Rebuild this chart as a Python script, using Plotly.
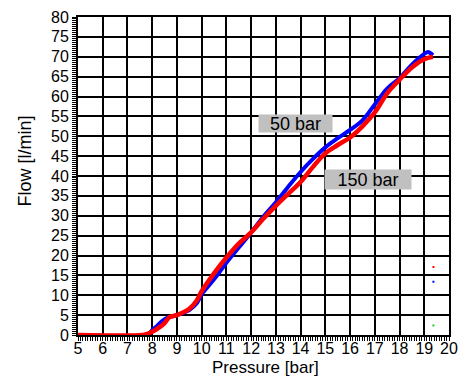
import plotly.graph_objects as go

# 50 bar curve (blue)
p50 = [5.0, 7.7, 7.9, 8.0, 8.2, 8.4, 8.6, 9.0, 9.5, 9.8, 10.0, 10.5, 11.0, 11.5, 12.0,
       12.5, 13.0, 13.5, 14.0, 14.5, 15.0, 15.5, 16.0, 16.5, 17.0, 17.5, 18.0, 18.5,
       19.0, 19.15, 19.35]
q50 = [0.0, 0.0, 0.5, 1.2, 2.3, 3.5, 4.3, 5.0, 6.3, 8.0, 10.2, 14.0, 18.2, 22.0, 25.8,
       29.8, 33.4, 37.3, 41.0, 44.3, 47.2, 49.5, 51.6, 54.0, 58.0, 62.0, 64.6, 68.0,
       70.7, 71.2, 70.4]

# 150 bar curve (red)
p150 = [5.0, 7.6, 7.8, 8.0, 8.3, 8.5, 8.7, 9.0, 9.5, 9.8, 10.0, 10.5, 11.0, 11.5, 12.0,
        12.5, 13.0, 13.5, 14.0, 14.5, 15.0, 15.5, 16.0, 16.5, 17.0, 17.5, 18.0, 18.5,
        19.0, 19.35]
q150 = [0.0, 0.0, 0.3, 0.8, 2.0, 3.0, 4.5, 5.0, 6.6, 8.7, 11.0, 15.5, 19.5, 23.0, 25.8,
        29.3, 32.5, 35.5, 38.5, 42.3, 45.7, 47.8, 49.7, 52.5, 56.0, 60.8, 64.2, 67.3,
        69.4, 70.0]

# small stray marks at the right
dot_x = [19.37, 19.37, 19.37]
dot_y = [17.1, 13.4, 2.4]
dot_c = ["red", "blue", "#22cc22"]

labels = ["50 bar", "150 bar"]
label_x = [13.79, 16.72]
label_y = [53.2, 39.1]
label_w = [71, 84]
label_h = [15, 17]

x_ticks = list(range(5, 21))
y_ticks = list(range(0, 81, 5))

FONT = "Liberation Sans, Arial, sans-serif"

fig = go.Figure()
fig.add_trace(go.Scatter(x=p50, y=q50, mode="lines", line=dict(color="#0000ff", width=4, shape="spline"),
                         showlegend=False, hoverinfo="skip"))
fig.add_trace(go.Scatter(x=p150, y=q150, mode="lines", line=dict(color="#ff0000", width=4.5, shape="spline"),
                         showlegend=False, hoverinfo="skip"))
fig.add_trace(go.Scatter(x=dot_x, y=dot_y, mode="markers", marker=dict(color=dot_c, size=2, symbol="square"),
                         showlegend=False, hoverinfo="skip"))

for t, lx, ly, w, h in zip(labels, label_x, label_y, label_w, label_h):
    fig.add_annotation(x=lx, y=ly, text=t, showarrow=False, xref="x", yref="y",
                       xanchor="center", yanchor="middle", width=w, height=h, align="center",
                       bgcolor="#c0c0c0", font=dict(family=FONT, size=18, color="black"),
                       borderpad=1)

# axis titles
fig.add_annotation(text="Pressure [bar]", xref="paper", yref="paper", x=(265 - 78) / 371, y=-(367 - 334.7) / 317.6,
                   xanchor="center", yanchor="middle", showarrow=False,
                   font=dict(family=FONT, size=17, color="black"))
fig.add_annotation(text="Flow [l/min]", xref="paper", yref="paper", x=-(78 - 25) / 371, y=(334.7 - 161.5) / 317.6,
                   xanchor="center", yanchor="middle", showarrow=False, textangle=-90,
                   font=dict(family=FONT, size=18, color="black"))

axis_common = dict(
    showgrid=True, gridcolor="black", gridwidth=1.6,
    showline=True, linecolor="black", linewidth=2, mirror=True,
    ticks="outside", ticklen=4, tickcolor="black", tickwidth=1,
    zeroline=False, automargin=False,
    tickfont=dict(family=FONT, size=16, color="black"),
)

fig.update_xaxes(range=[5, 20], tickmode="array", tickvals=x_ticks, ticktext=[str(v) for v in x_ticks],
                 ticklabelstandoff=-6,
                 minor=dict(dtick=0.1, ticks="outside", ticklen=4, tickcolor="black", tickwidth=1, showgrid=False),
                 **axis_common)
fig.update_yaxes(range=[0, 80], tickmode="array", tickvals=y_ticks, ticktext=[str(v) for v in y_ticks],
                 minor=dict(dtick=0.5, ticks="outside", ticklen=4, tickcolor="black", tickwidth=1, showgrid=False),
                 **axis_common)

fig.update_layout(width=462, height=379, margin=dict(l=78, r=13, t=17, b=44),
                  paper_bgcolor="white", plot_bgcolor="white")

fig.write_html("out.html", config={"displayModeBar": False},
               post_script="document.body.style.margin='0';document.body.style.overflow='hidden';")
